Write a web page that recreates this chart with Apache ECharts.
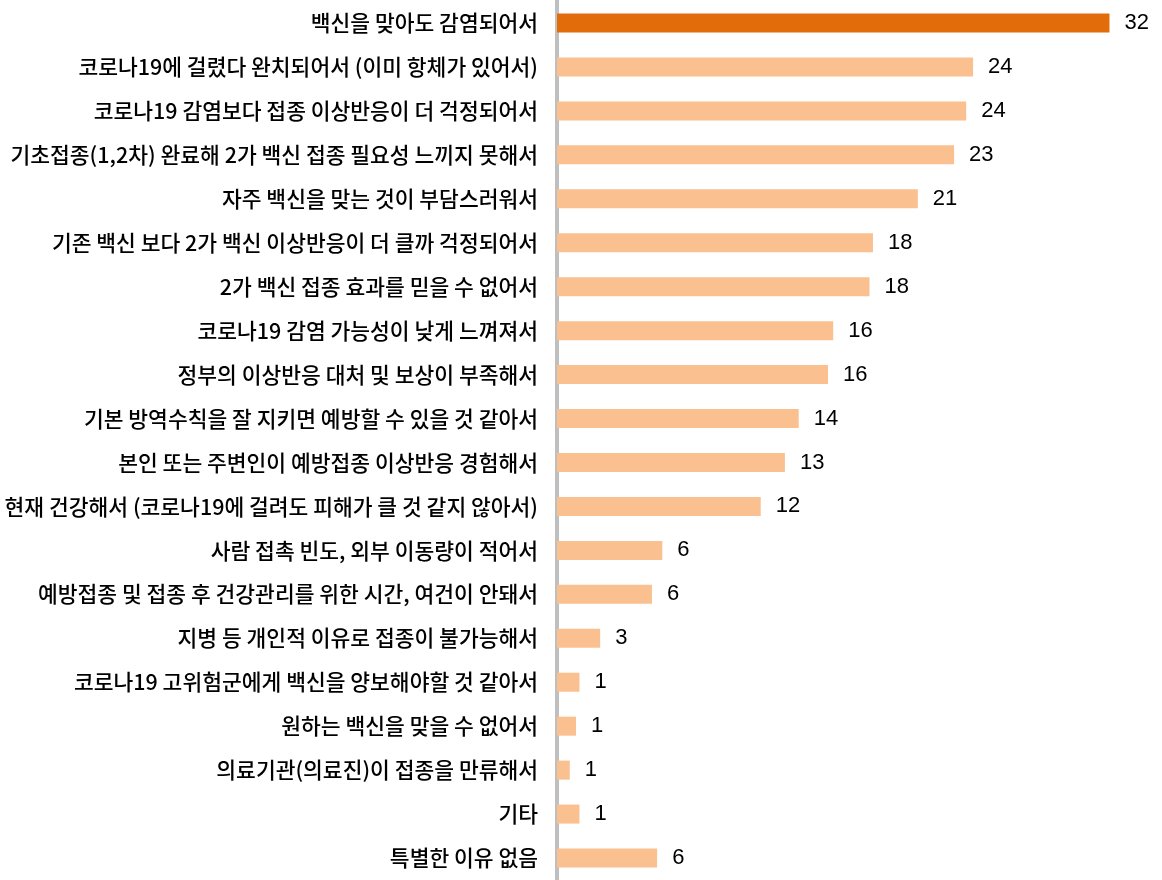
<!DOCTYPE html>
<html>
<head>
<meta charset="utf-8">
<script src="https://cdn.jsdelivr.net/npm/echarts@6/dist/echarts.min.js"></script>
<style>
  html, body { margin: 0; padding: 0; background: #fff; }
  #chart { width: 1162px; height: 880px; }
</style>
</head>
<body>
<div id="chart"></div>
<script>
// 항목 (위에서 아래 순서)
var reasons = [
    "백신을 맞아도 감염되어서",
    "코로나19에 걸렸다 완치되어서 (이미 항체가 있어서)",
    "코로나19 감염보다 접종 이상반응이 더 걱정되어서",
    "기초접종(1,2차) 완료해 2가 백신 접종 필요성 느끼지 못해서",
    "자주 백신을 맞는 것이 부담스러워서",
    "기존 백신 보다 2가 백신 이상반응이 더 클까 걱정되어서",
    "2가 백신 접종 효과를 믿을 수 없어서",
    "코로나19 감염 가능성이 낮게 느껴져서",
    "정부의 이상반응 대처 및 보상이 부족해서",
    "기본 방역수칙을 잘 지키면 예방할 수 있을 것 같아서",
    "본인 또는 주변인이 예방접종 이상반응 경험해서",
    "현재 건강해서 (코로나19에 걸려도 피해가 클 것 같지 않아서)",
    "사람 접촉 빈도, 외부 이동량이 적어서",
    "예방접종 및 접종 후 건강관리를 위한 시간, 여건이 안돼서",
    "지병 등 개인적 이유로 접종이 불가능해서",
    "코로나19 고위험군에게 백신을 양보해야할 것 같아서",
    "원하는 백신을 맞을 수 없어서",
    "의료기관(의료진)이 접종을 만류해서",
    "기타",
    "특별한 이유 없음"
];
// 비율(%) - 막대 길이에서 읽은 값, 라벨은 반올림
var percents = [32.0, 24.1, 23.7, 23.0, 20.9, 18.3, 18.1, 16.0, 15.7, 14.0,
                13.2, 11.8, 6.1, 5.5, 2.5, 1.3, 1.1, 0.74, 1.3, 5.8];

var chart = echarts.init(document.getElementById("chart"));

var barData = [];
for (var i = 0; i < percents.length; i++) {
    barData.push({
        value: percents[i],
        itemStyle: {color: i == 0 ? "#E36C0A" : "#FAC090"}
    });
}

chart.setOption({
    animation: false,
    grid: {left: 557, right: 18, top: 1, bottom: -4, containLabel: false},
    xAxis: {
        type: "value",
        min: 0,
        max: 34,
        show: false
    },
    yAxis: {
        type: "category",
        inverse: true,
        data: reasons,
        axisLine: {show: true, lineStyle: {color: "#BFBFBF", width: 4}},
        axisTick: {show: false},
        axisLabel: {
            color: "#000",
            fontSize: 21.5,
            fontWeight: 500,
            fontFamily: "Noto Sans CJK KR",
            margin: 19
        }
    },
    series: [{
        type: "bar",
        data: barData,
        barWidth: 19,
        label: {
            show: true,
            position: "right",
            distance: 15,
            color: "#000",
            fontSize: 22,
            fontFamily: "Liberation Sans",
            formatter: function (p) {
                return Math.round(p.value);
            }
        }
    }]
});
</script>
</body>
</html>
